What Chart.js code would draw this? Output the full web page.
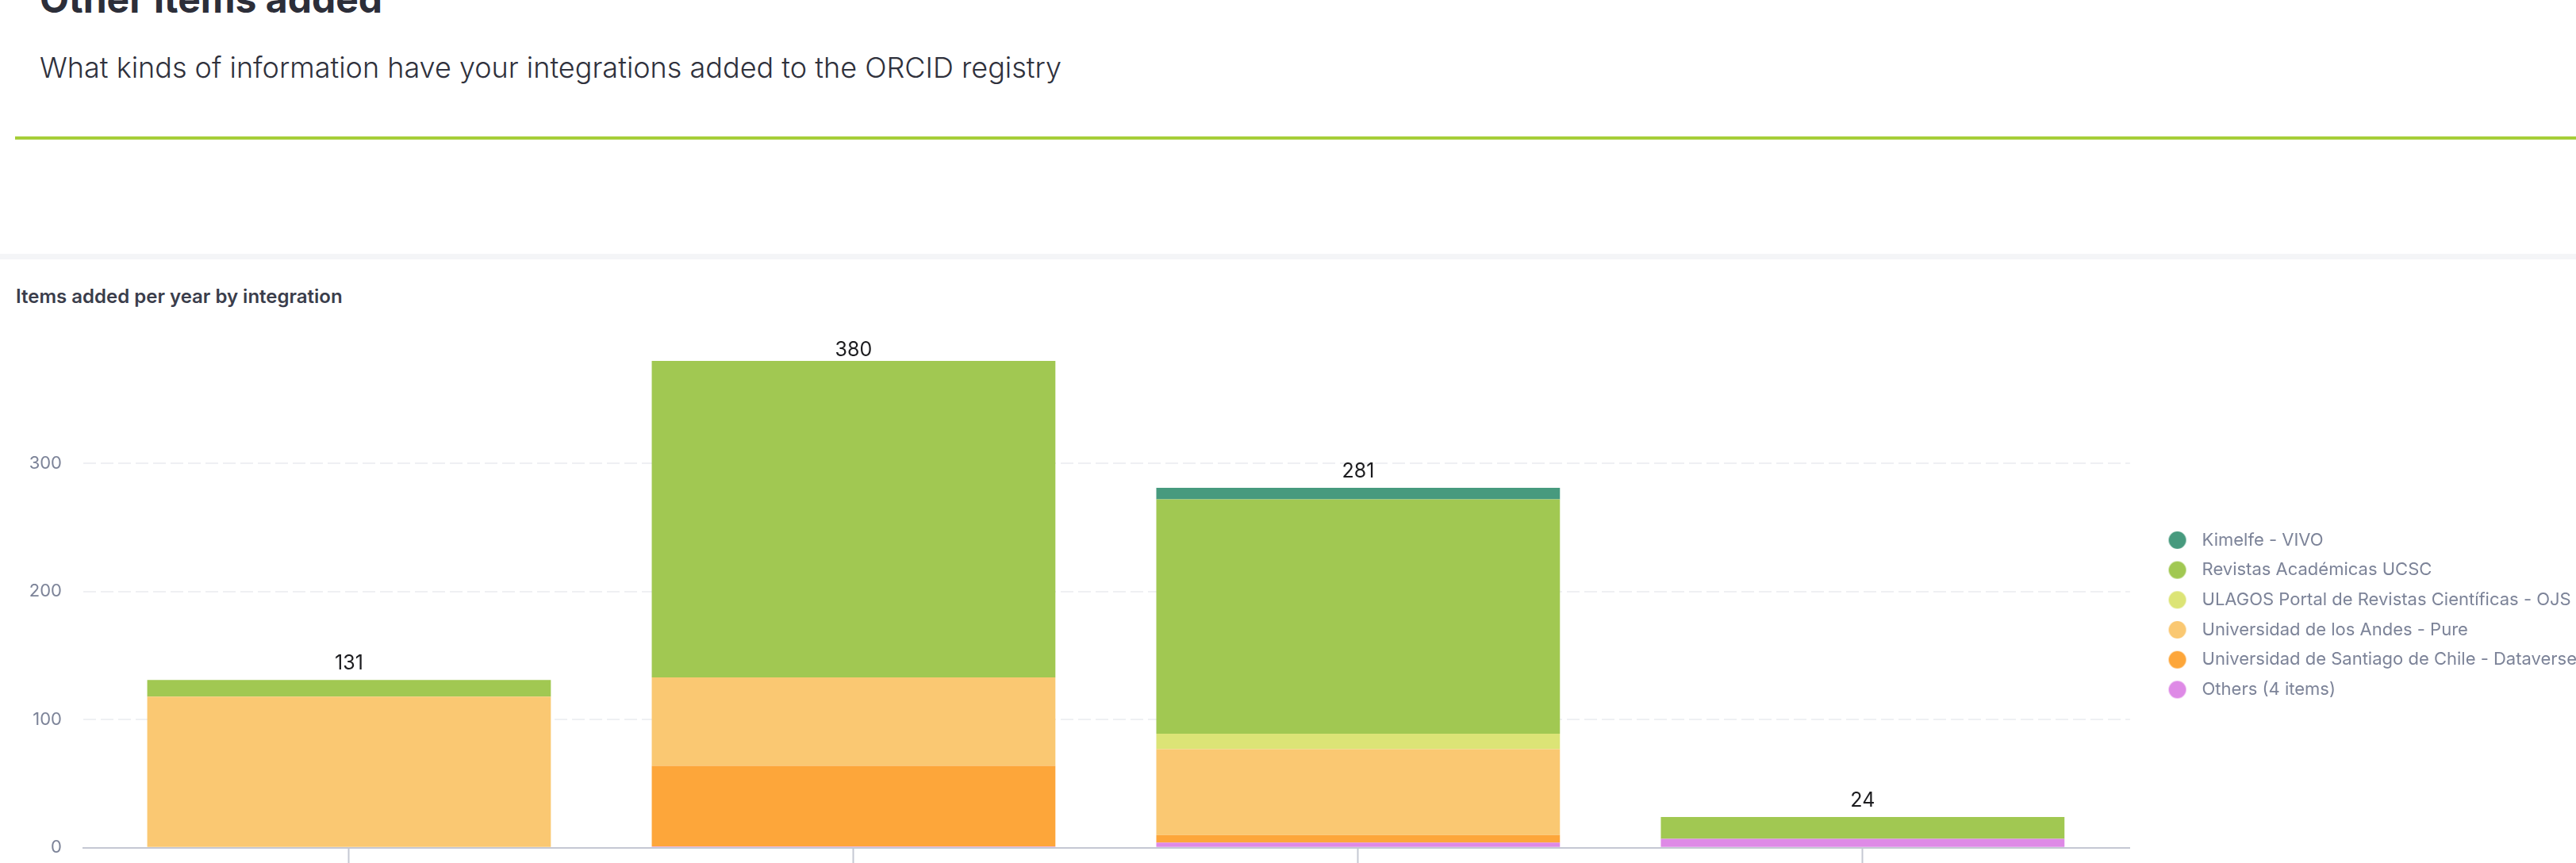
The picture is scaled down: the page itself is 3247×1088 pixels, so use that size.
<!DOCTYPE html>
<html>
<head>
<meta charset="utf-8">
<script src="https://cdn.jsdelivr.net/npm/chart.js@4.4.1/dist/chart.umd.min.js"></script>
<style>
html,body{margin:0;padding:0;background:#fff;}
body{width:3247px;height:1088px;overflow:hidden;position:relative;font-family:Inter,sans-serif;}
#title{position:absolute;left:50px;top:-25px;margin:0;font:700 48px/48px Inter;color:#2c2e39;white-space:nowrap;}
#subtitle{position:absolute;left:50px;top:67px;margin:0;font:300 36px/36px Inter;color:#2f313c;white-space:nowrap;}
#rule{position:absolute;left:19px;top:172px;width:3228px;height:4px;background:#a6ce39;}
#band{position:absolute;left:0;top:320px;width:3247px;height:7px;background:#f4f5f7;}
#chartTitle{position:absolute;left:20px;top:362px;margin:0;font:600 24px/24px Inter;color:#3a3d4b;white-space:nowrap;}
#wrap{position:absolute;left:0;top:400px;}
canvas{display:block;}
</style>
</head>
<body>
<h1 id="title">Other items added</h1>
<p id="subtitle">What kinds of information have your integrations added to the ORCID registry</p>
<div id="rule"></div>
<div id="band"></div>
<h2 id="chartTitle">Items added per year by integration</h2>
<div id="wrap"><canvas id="c"></canvas></div>
<script>
// ---- data ----
const years = [2022, 2023, 2024, 2025];
const seriesNames = [
  "Kimelfe - VIVO",
  "Revistas Académicas UCSC",
  "ULAGOS Portal de Revistas Científicas - OJS",
  "Universidad de los Andes - Pure",
  "Universidad de Santiago de Chile - Dataverse",
  "Others (4 items)"
];
const kimelfeVivo      = [0, 0, 9, 0];
const revistasUcsc     = [13, 247, 183, 17];
const ulagosOjs        = [0, 0, 12, 0];
const andesPure        = [118, 69, 67, 0];
const santiagoDataverse= [0, 63, 6, 0];
const others           = [0, 1, 4, 7];
const yTickValues      = [0, 100, 200, 300];
const seriesColors = ["#479a7e", "#a1c852", "#dce476", "#fac872", "#fda63a", "#de8ae6"];

// ---- layout targets (page pixels) ----
const CANVAS_TOP = 400;
const PLOT_LEFT = 105;
const PLOT_RIGHT = 2685;
const PLOT_BOTTOM = 1069;          // y of value 0
const PX_PER_UNIT = (1069 - 455) / 380;
const LEGEND_FIRST_Y = 681;        // centre of first legend dot
const LABEL_GAP = 13;              // total label baseline above bar top
const LABEL_MIN_BASELINE = 449;    // labels are kept below this page y
const X_MIN = 2021.4733, X_MAX = 2025.5299;

Chart.defaults.font.family = "Inter";

function legendDot(color) {
  const c = document.createElement("canvas");
  c.width = 48; c.height = 24;
  const g = c.getContext("2d");
  g.fillStyle = color;
  g.beginPath();
  g.arc(36, 12, 11, 0, Math.PI * 2);
  g.fill();
  return c;
}

const seriesValues = [kimelfeVivo, revistasUcsc, ulagosOjs, andesPure, santiagoDataverse, others];

const totalsPlugin = {
  id: "totals",
  afterDatasetsDraw(chart) {
    const {ctx} = chart;
    const xs = chart.scales.x, ys = chart.scales.y;
    ctx.save();
    ctx.font = "400 25px Inter";
    ctx.fillStyle = "#1c1c1f";
    ctx.textAlign = "center";
    ctx.textBaseline = "alphabetic";
    years.forEach((yr, i) => {
      const total = chart.data.datasets.reduce((s, d) => s + (d.data[i] || 0), 0);
      const y = Math.max(ys.getPixelForValue(total) - LABEL_GAP, LABEL_MIN_BASELINE - CANVAS_TOP);
      ctx.fillText(String(total), xs.getPixelForValue(yr), y);
    });
    ctx.restore();
  }
};

function makeConfig(xh, padTop) {
  const yMax = (PLOT_BOTTOM - (CANVAS_TOP + padTop)) / PX_PER_UNIT;
  // stacked bottom-to-top: Others, Dataverse, Pure, ULAGOS, Revistas, Kimelfe
  const order = [5, 4, 3, 2, 1, 0];
  const dots = seriesColors.map(legendDot);
  return {
    type: "bar",
    data: {
      labels: years,
      datasets: order.map(k => ({
        label: seriesNames[k],
        data: seriesValues[k],
        backgroundColor: seriesColors[k],
        borderWidth: 0,
        categoryPercentage: 0.8,
        barPercentage: 1.0,
        _dot: dots[k]
      }))
    },
    options: {
      responsive: false,
      maintainAspectRatio: false,
      animation: false,
      events: [],
      layout: {padding: {top: padTop, left: 0, right: 0, bottom: 0}},
      plugins: {
        tooltip: {enabled: false},
        legend: {
          position: "right",
          align: "center",
          reverse: true,
          labels: {
            usePointStyle: true,
            pointStyleWidth: 64,
            padding: 15.7,
            color: "#7c8398",
            font: {size: 22, family: "Inter"},
            generateLabels(chart) {
              const items = Chart.defaults.plugins.legend.labels.generateLabels(chart);
              items.forEach(it => { it.pointStyle = chart.data.datasets[it.datasetIndex]._dot; });
              return items;
            }
          }
        }
      },
      scales: {
        x: {
          type: "linear",
          stacked: true,
          offset: false,
          bounds: "data",
          min: X_MIN,
          max: X_MAX,
          afterFit(s) { s.height = xh; },
          afterBuildTicks(s) { s.ticks = years.map(v => ({value: v})); },
          grid: {display: true, drawOnChartArea: false, drawTicks: true, tickLength: 30,
                 tickColor: "#c5c8d3", tickWidth: 2, offset: false, color: "#c5c8d3"},
          border: {display: true, color: "#c5c8d3", width: 2},
          ticks: {padding: 10, color: "#7c8398", font: {size: 22}, callback: v => String(v)}
        },
        y: {
          type: "linear",
          stacked: true,
          bounds: "data",
          min: 0,
          max: yMax,
          afterFit(s) { s.width = PLOT_LEFT; },
          afterBuildTicks(s) { s.ticks = yTickValues.map(v => ({value: v})); },
          grid: {color: "#eff0f3", lineWidth: 2, drawTicks: false},
          border: {display: false, dash: [16, 6]},
          ticks: {padding: 27, color: "#7c8398", font: {size: 22}}
        }
      }
    },
    plugins: [totalsPlugin]
  };
}

const canvas = document.getElementById("c");
function build(w, h, xh, padTop) {
  canvas.width = w; canvas.height = h;
  canvas.style.width = w + "px"; canvas.style.height = h + "px";
  return new Chart(canvas, makeConfig(xh, padTop));
}

// fit canvas so the plot area and legend land where the reference has them
let W = 3400, H = 709, XH = 40, PT = 55;
let chart = null;
for (let it = 0; it < 6; it++) {
  if (chart) chart.destroy();
  chart = build(W, H, XH, PT);
  const ca = chart.chartArea;
  const hb = chart.legend.legendHitBoxes[0];
  const dRight = ca.right - PLOT_RIGHT;
  const dBottom = ca.bottom + CANVAS_TOP - PLOT_BOTTOM;
  const dLegend = hb ? (hb.top + 11 + CANVAS_TOP - LEGEND_FIRST_Y) : 0;
  if (Math.abs(dRight) < 0.6 && Math.abs(dBottom) < 0.6 && Math.abs(dLegend) < 0.6) break;
  W = Math.round(W - dRight);
  H = Math.round(H - dBottom);
  PT = PT - 2 * dLegend + dBottom;
}
</script>
</body>
</html>
